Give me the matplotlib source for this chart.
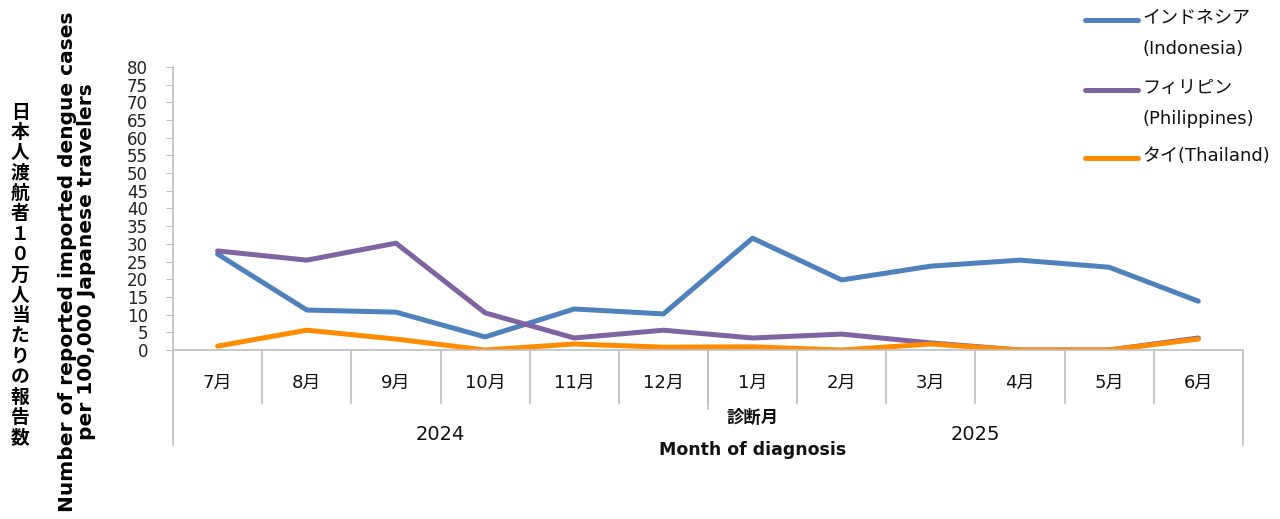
import matplotlib.pyplot as plt
from matplotlib.lines import Line2D

plt.rcParams['font.family'] = ['DejaVu Sans', 'Noto Sans CJK JP']

months = ['7月', '8月', '9月', '10月', '11月', '12月', '1月', '2月', '3月', '4月', '5月', '6月']
years = ['2024', '2025']
year_sizes = [6, 6]

indonesia = [27.1, 11.3, 10.7, 3.7, 11.6, 10.2, 31.6, 19.8, 23.7, 25.4, 23.4, 13.8]
philippines = [28.0, 25.4, 30.2, 10.5, 3.4, 5.6, 3.4, 4.5, 2.0, 0.0, 0.0, 3.4]
thailand = [1.1, 5.6, 3.1, 0.0, 1.7, 0.8, 0.9, 0.0, 1.7, 0.0, 0.0, 3.1]

series_names = ['インドネシア\n(Indonesia)', 'フィリピン\n(Philippines)', 'タイ(Thailand)']
series_colors = ['#4F81BD', '#8064A2', '#FF8C00']

fig = plt.figure(figsize=(12.8, 5.19), dpi=100)
ax = fig.add_axes([0.1352, 0.3256, 0.971 - 0.1352, 0.871 - 0.3256])

x = list(range(len(months)))
for vals, c in zip([indonesia, philippines, thailand], series_colors):
    ax.plot(x, vals, color=c, lw=3.6, solid_capstyle='round', solid_joinstyle='round')

ax.set_xlim(-0.5, len(months) - 0.5)
ax.set_ylim(0, 80)
ax.set_yticks(range(0, 81, 5))
ax.tick_params(axis='y', length=5, color='#BFBFBF', labelsize=12, pad=13, labelcolor='#222222')
ax.set_xticks([])
for s in ax.spines.values():
    s.set_visible(False)

gray = '#BFBFBF'
trans = ax.get_xaxis_transform()
# axis lines
ax.plot([-0.5, len(months) - 0.5], [0, 0], transform=trans, color=gray, lw=1.2, clip_on=False)
ax.plot([-0.5, -0.5], [1, -0.336], transform=trans, color=gray, lw=1.2, clip_on=False)
ax.plot([len(months) - 0.5] * 2, [0, -0.336], transform=trans, color=gray, lw=1.2, clip_on=False)

# month separators and labels
for i, m in enumerate(months):
    ax.text(i, -0.117, m, transform=trans, ha='center', va='center', fontsize=13, color='#111111')
    if i > 0:
        ax.plot([i - 0.5, i - 0.5], [0, -0.187], transform=trans, color=gray, lw=1.2, clip_on=False)

# year groups
start = 0
for yr, n in zip(years, year_sizes):
    ax.text(start + (n - 1) / 2, -0.30, yr, transform=trans, ha='center', va='center',
            fontsize=14, color='#111111')
    start += n
ax.plot([year_sizes[0] - 0.5] * 2, [0, -0.21], transform=trans, color=gray, lw=1.2, clip_on=False)

ax.text(6, -0.24, '診断月', transform=trans, ha='center', va='center', fontsize=12.5,
        fontweight='bold', color='#111111')
ax.text(6, -0.352, 'Month of diagnosis', transform=trans, ha='center', va='center',
        fontsize=12.5, fontweight='bold', color='#111111')

# y labels
jp_label = '日本人渡航者１０万人当たりの報告数'
fig.text(20 / 1280, 1 - 275 / 519, '\n'.join(jp_label), ha='center', va='center',
         fontsize=13.5, fontweight='bold', linespacing=1.09, family=['Noto Sans CJK JP'])
fig.text(77 / 1280, 1 - 262 / 519,
         'Number of reported imported dengue cases\nper 100,000 Japanese travelers',
         rotation=90, ha='center', va='center', multialignment='center',
         fontsize=14.5, fontweight='bold', linespacing=0.95)

# legend
leg_y = [20, 90, 158]
for name, c, yy in zip(series_names, series_colors, leg_y):
    yf = 1 - yy / 519
    fig.add_artist(Line2D([1085 / 1280, 1138 / 1280], [yf, yf], color=c, lw=3.6,
                          solid_capstyle='round', transform=fig.transFigure))
    fig.text(1142 / 1280, yf + 11 / 519, name, ha='left', va='top', fontsize=13,
             linespacing=1.95, color='#111111')

fig.savefig('out.png', dpi=100)
